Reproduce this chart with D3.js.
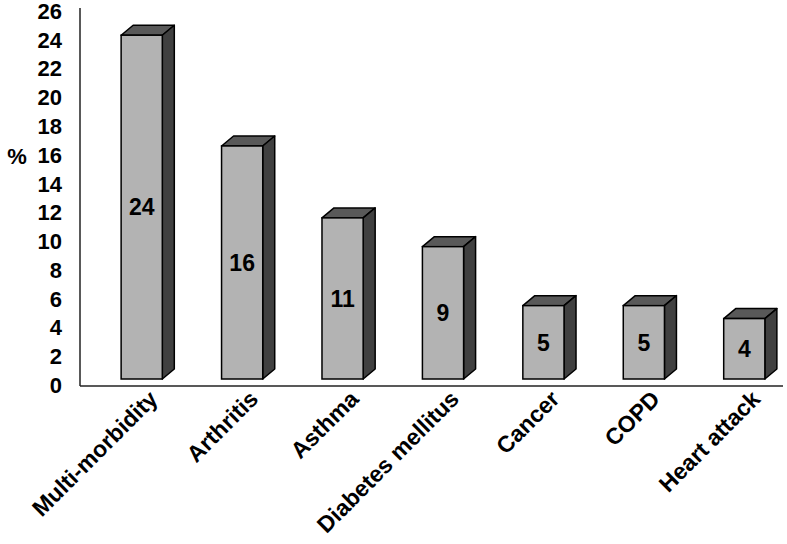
<!DOCTYPE html>
<html lang="en">
<head>
    <meta charset="UTF-8">
    <title>Prevalence</title>
    <style>
        body { margin: 0; background: #fff; }
        text { font-family: Arial, "Liberation Sans", sans-serif; font-weight: bold; fill: #000; }
    </style>
    <script src="https://d3js.org/d3.v7.min.js"></script>
</head>
<body>
    <svg width="787" height="544"></svg>
    <script>
        // data
        var categories = ["Multi-morbidity", "Arthritis", "Asthma", "Diabetes mellitus", "Cancer", "COPD", "Heart attack"];
        var values = [23.9, 16.2, 11.2, 9.2, 5.1, 5.1, 4.2];
        var yTicks = d3.range(0, 27, 2);

        var svg = d3.select("svg");

        var x = d3.scaleBand()
            .domain(categories)
            .range([91, 795])
            .paddingInner(0.59)
            .paddingOuter(0.3);

        var y = d3.scaleLinear()
            .domain([0, 26])
            .range([385, 11]);

        var lift = 6;      // front face sits a bit above the floor
        var dx = 12, dy = -10;   // depth of the 3d boxes

        // axis lines
        svg.append("line")
            .attr("x1", 80).attr("x2", 80)
            .attr("y1", 8).attr("y2", 386)
            .attr("stroke", "#222").attr("stroke-width", 1.5);
        svg.append("line")
            .attr("x1", 80).attr("x2", 783)
            .attr("y1", 386).attr("y2", 386)
            .attr("stroke", "#222").attr("stroke-width", 1.5);

        // y tick labels
        svg.append("g")
            .selectAll("text")
            .data(yTicks)
            .enter().append("text")
            .attr("x", 62)
            .attr("y", function (d) { return y(d); })
            .attr("dy", "0.36em")
            .attr("text-anchor", "end")
            .style("font-size", "22px")
            .text(function (d) { return d; });

        svg.append("text")
            .attr("x", 17).attr("y", 156)
            .attr("dy", "0.36em")
            .attr("text-anchor", "middle")
            .style("font-size", "22px")
            .text("%");

        var data = categories.map(function (c, i) { return { cat: c, v: values[i] }; });

        var bars = svg.append("g")
            .selectAll("g")
            .data(data)
            .enter().append("g");

        function pts(arr) { return arr.map(function (p) { return p.join(","); }).join(" "); }

        // top face
        bars.append("polygon")
            .attr("points", function (d) {
                var x0 = x(d.cat), x1 = x0 + x.bandwidth(), t = y(d.v) - lift;
                return pts([[x0, t], [x0 + dx, t + dy], [x1 + dx, t + dy], [x1, t]]);
            })
            .attr("fill", "#595959")
            .attr("stroke", "#000").attr("stroke-width", 1.5).attr("stroke-linejoin", "round");

        // side face
        bars.append("polygon")
            .attr("points", function (d) {
                var x1 = x(d.cat) + x.bandwidth(), t = y(d.v) - lift, b = y(0) - lift;
                return pts([[x1, t], [x1 + dx, t + dy], [x1 + dx, b + dy], [x1, b]]);
            })
            .attr("fill", "#404040")
            .attr("stroke", "#000").attr("stroke-width", 1.5).attr("stroke-linejoin", "round");

        // front face
        bars.append("rect")
            .attr("x", function (d) { return x(d.cat); })
            .attr("y", function (d) { return y(d.v) - lift; })
            .attr("width", x.bandwidth())
            .attr("height", function (d) { return y(0) - y(d.v); })
            .attr("fill", "#b3b3b3")
            .attr("stroke", "#000").attr("stroke-width", 1.5);

        // value labels
        bars.append("text")
            .attr("x", function (d) { return x(d.cat) + x.bandwidth() / 2; })
            .attr("y", function (d) { return (y(d.v) + y(0)) / 2 - lift; })
            .attr("dy", "0.36em")
            .attr("text-anchor", "middle")
            .style("font-size", "23px")
            .text(function (d) { return Math.round(d.v); });

        // category labels
        svg.append("g")
            .selectAll("text")
            .data(categories)
            .enter().append("text")
            .attr("text-anchor", "end")
            .attr("transform", function (d) {
                return "translate(" + (x(d) + x.bandwidth() / 2 + 6) + ",389) rotate(-45)";
            })
            .attr("dy", "0.7em")
            .style("font-size", "23px")
            .text(function (d) { return d; });
    </script>
</body>
</html>
